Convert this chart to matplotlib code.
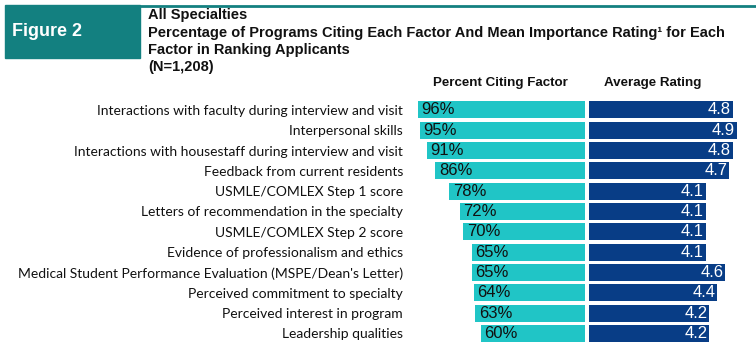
import matplotlib.pyplot as plt
from matplotlib.patches import Rectangle
from matplotlib.lines import Line2D

factors = [
    "Interactions with faculty during interview and visit",
    "Interpersonal skills",
    "Interactions with housestaff during interview and visit",
    "Feedback from current residents",
    "USMLE/COMLEX Step 1 score",
    "Letters of recommendation in the specialty",
    "USMLE/COMLEX Step 2 score",
    "Evidence of professionalism and ethics",
    "Medical Student Performance Evaluation (MSPE/Dean's Letter)",
    "Perceived commitment to specialty",
    "Perceived interest in program",
    "Leadership qualities",
]
percent_citing = [96, 95, 91, 86, 78, 72, 70, 65, 65, 64, 63, 60]
avg_rating = [4.8, 4.9, 4.8, 4.7, 4.1, 4.1, 4.1, 4.1, 4.6, 4.4, 4.2, 4.2]

TEAL = "#138080"
CYAN = "#20C5C6"
NAVY = "#083D86"

W, H = 756, 346
fig = plt.figure(figsize=(W / 100, H / 100), dpi=100)


def px_axes(x0, y0, x1, y1):
    # pixel box (top-left origin) -> figure axes
    return fig.add_axes([x0 / W, 1 - y1 / H, (x1 - x0) / W, (y1 - y0) / H])


def fx(x):
    return x / W


def fy(y):
    return 1 - y / H


# header band
fig.patches.append(Rectangle((fx(5), fy(58)), fx(135), (53) / H,
                             transform=fig.transFigure, color=TEAL, zorder=0))
fig.lines.append(Line2D([fx(140), 1], [fy(5.5), fy(5.5)], transform=fig.transFigure,
                        color=TEAL, lw=2))
fig.text(fx(12), fy(32), "Figure 2", color="white", fontsize=13, fontweight="bold",
         family="Liberation Sans", va="center", ha="left")

title_lines = [
    "All Specialties",
    "Percentage of Programs Citing Each Factor And Mean Importance Rating\u00b9 for Each",
    "Factor in Ranking Applicants",
    "(N=1,208)",
]
for i, line in enumerate(title_lines):
    fig.text(fx(148), fy(15 + 17.5 * i), line, fontsize=10.5, fontweight="bold",
             family="Liberation Sans", va="center", ha="left", color="#111111")

fig.text(fx(500), fy(83), "Percent Citing Factor", fontsize=9.6, fontweight="bold",
         family="Liberation Sans", va="center", ha="center", color="#111111")
fig.text(fx(653), fy(83), "Average Rating", fontsize=9.6, fontweight="bold",
         family="Liberation Sans", va="center", ha="center", color="#111111")

rows = list(range(len(factors)))
pitch = 20.3
top, bottom = 100, 346
ylim = ((bottom - 110) / pitch, (top - 110) / pitch)
bar_h = 17 / pitch

# percent panel, bars grow leftwards from a common right edge
axl = px_axes(410, top, 585, bottom)
axl.barh(rows, percent_citing, height=bar_h, color=CYAN)
axl.set_xlim(175 / 1.74, 0)
axl.set_ylim(*ylim)
axl.set_yticks(rows)
axl.set_yticklabels(factors, fontsize=10, family="Lato", color="#111111")
axl.tick_params(axis="y", length=0, pad=5)
axl.set_xticks([])
for s in axl.spines.values():
    s.set_visible(False)
for r, v in zip(rows, percent_citing):
    axl.annotate(f"{v}%", (v, r), xytext=(2.5, 0), textcoords="offset points",
                 ha="left", va="center", fontsize=12, family="Liberation Sans",
                 color="#111111")

# rating panel
axr = px_axes(589, top, 756, bottom)
axr.barh(rows, avg_rating, height=bar_h, color=NAVY)
axr.set_xlim(1.15, 1.15 + 167 / 39.5)
axr.set_ylim(*ylim)
axr.axis("off")
for r, v in zip(rows, avg_rating):
    axr.annotate(f"{v:.1f}", (v, r), xytext=(-1.5, 0), textcoords="offset points",
                 ha="right", va="center", fontsize=12, family="Liberation Sans",
                 color="white")

fig.savefig("out.png", dpi=100)
